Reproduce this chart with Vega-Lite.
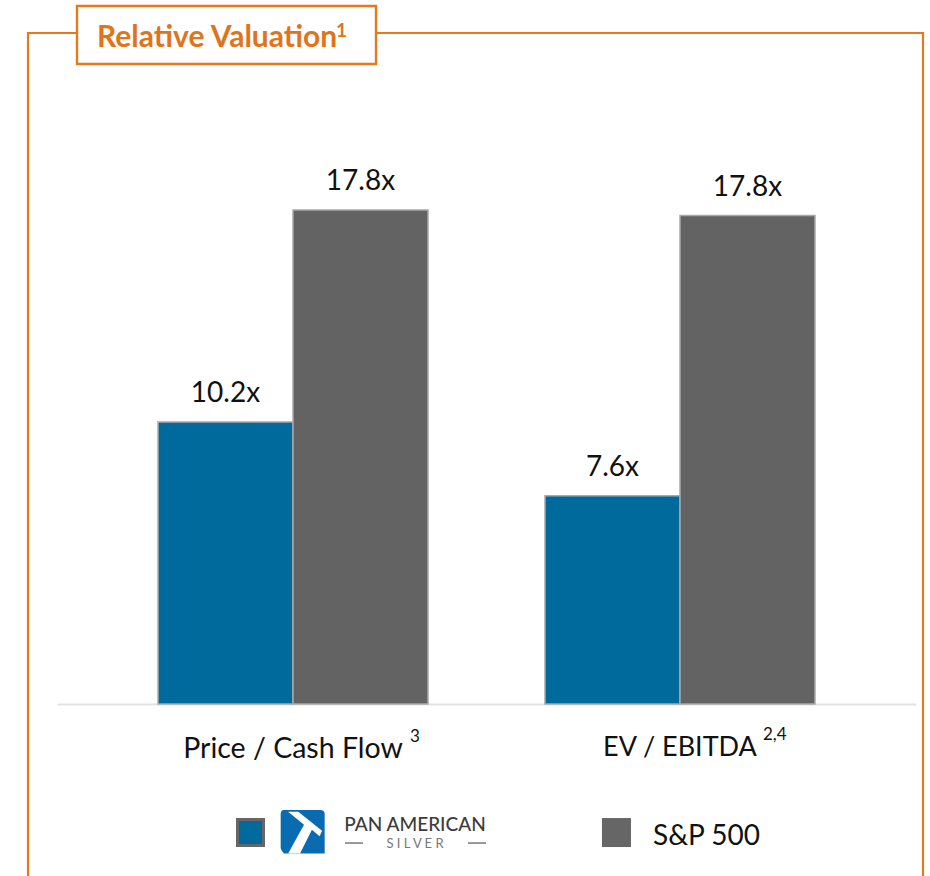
{
"$schema":"https://vega.github.io/schema/vega-lite/v6.json",
"autosize":{"type":"none"},
"padding":{"left":28,"top":33,"right":7,"bottom":0},
"width":895,"height":860,
"background":"white",
"view":{"stroke":"#E47A1E","strokeWidth":2.2,"fill":"white"},
"config":{"font":"Lato","text":{"font":"Lato"}},
"resolve":{"scale":{"x":"independent","y":"independent"},"axis":{"x":"independent","y":"independent"}},
"layer":[
{"data":{"values":[
{"metric":"Price / Cash Flow","series":"Pan American Silver","value":10.16,"label":"10.2x"},
{"metric":"Price / Cash Flow","series":"S&P 500","value":17.8,"label":"17.8x"},
{"metric":"EV / EBITDA","series":"Pan American Silver","value":7.5,"label":"7.6x"},
{"metric":"EV / EBITDA","series":"S&P 500","value":17.6,"label":"17.8x"}]},
"encoding":{
"x":{"field":"metric","type":"nominal","sort":null,"title":null,
"scale":{"range":[29,888],"paddingInner":0.3023,"paddingOuter":0.261},
"axis":{"offset":-189,"ticks":false,"domainColor":"#E3E3E3","domainWidth":2,"labelAngle":0,"labelFontSize":{"expr":"datum.label == 'Price / Cash Flow' ? 28.5 : 27"},"labelColor":"#111111","labelFont":"Lato","labelPadding":30,"labelLimit":0,"grid":false}},
"xOffset":{"field":"series","type":"nominal","sort":null,"scale":{"paddingInner":0,"paddingOuter":0}},
"y":{"field":"value","type":"quantitative","axis":null,"scale":{"domain":[0,24.18],"range":[671,0],"nice":false}}
},
"layer":[
{"mark":{"type":"bar","stroke":"#A9A9A9","strokeWidth":1.5},
"encoding":{"color":{"field":"series","type":"nominal","legend":null,"scale":{"domain":["Pan American Silver","S&P 500"],"range":["#006A9C","#636363"]}}}},
{"mark":{"type":"text","fontSize":28,"dy":-14,"color":"#111111","baseline":"bottom"},
"encoding":{"text":{"field":"label"}}}
]},
{"data":{"values":[{"u":0.4268,"v":0.1756,"t":"3"},{"u":0.8212,"v":0.1779,"t":"2,4"}]},
"mark":{"type":"text","align":"left","baseline":"alphabetic","fontSize":17,"color":"#111111"},
"encoding":{"x":{"field":"u","type":"quantitative","axis":null,"scale":{"domain":[0,1],"nice":false,"zero":false}},
"y":{"field":"v","type":"quantitative","axis":null,"scale":{"domain":[0,1],"nice":false,"zero":false}},"text":{"field":"t"}}},
{"data":{"values":[{"u":0.05475,"u2":0.38883,"v":1.0314,"v2":0.96395}]},
"mark":{"type":"rect","fill":"white","stroke":"#E47A1E","strokeWidth":2.4},
"encoding":{"x":{"field":"u","type":"quantitative","axis":null,"scale":{"domain":[0,1],"nice":false,"zero":false}},"x2":{"field":"u2"},
"y":{"field":"v","type":"quantitative","axis":null,"scale":{"domain":[0,1],"nice":false,"zero":false}},"y2":{"field":"v2"}}},
{"data":{"values":[{"u":0.0771,"v":0.98372,"t":"Relative Valuation"}]},
"mark":{"type":"text","align":"left","baseline":"alphabetic","fontSize":30,"fontWeight":"bold","color":"#E0741C"},
"encoding":{"x":{"field":"u","type":"quantitative","axis":null,"scale":{"domain":[0,1],"nice":false,"zero":false}},
"y":{"field":"v","type":"quantitative","axis":null,"scale":{"domain":[0,1],"nice":false,"zero":false}},"text":{"field":"t"}}},
{"data":{"values":[{"u":0.3441,"v":0.9953,"t":"1"}]},
"mark":{"type":"text","align":"left","baseline":"alphabetic","fontSize":19,"fontWeight":"bold","color":"#E0741C"},
"encoding":{"x":{"field":"u","type":"quantitative","axis":null,"scale":{"domain":[0,1],"nice":false,"zero":false}},
"y":{"field":"v","type":"quantitative","axis":null,"scale":{"domain":[0,1],"nice":false,"zero":false}},"text":{"field":"t"}}},
{"data":{"values":[{"u":0.2486,"v":0.0703}]},
"mark":{"type":"point","shape":"square","filled":true,"size":676,"fill":"#006A9C","stroke":"#666666","strokeWidth":3,"opacity":1},
"encoding":{"x":{"field":"u","type":"quantitative","axis":null,"scale":{"domain":[0,1],"nice":false,"zero":false}},
"y":{"field":"v","type":"quantitative","axis":null,"scale":{"domain":[0,1],"nice":false,"zero":false}}}},
{"data":{"values":[{"u":0.6575,"v":0.0703}]},
"mark":{"type":"point","shape":"square","filled":true,"size":841,"fill":"#666666","opacity":1},
"encoding":{"x":{"field":"u","type":"quantitative","axis":null,"scale":{"domain":[0,1],"nice":false,"zero":false}},
"y":{"field":"v","type":"quantitative","axis":null,"scale":{"domain":[0,1],"nice":false,"zero":false}}}},
{"data":{"values":[{"u":0.3069,"v":0.0709}]},
"mark":{"type":"point","shape":"M-0.85,-1 L0.8,-1 Q1,-1 1,-0.8 L1,0.98 L-0.85,0.98 Q-1,0.8 -1,0.7 L-1,-0.8 Q-1,-1 -0.85,-1 Z","filled":true,"size":1936,"fill":"#0A6CB0","opacity":1},
"encoding":{"x":{"field":"u","type":"quantitative","axis":null,"scale":{"domain":[0,1],"nice":false,"zero":false}},
"y":{"field":"v","type":"quantitative","axis":null,"scale":{"domain":[0,1],"nice":false,"zero":false}}}},
{"data":{"values":[{"u":0.3069,"v":0.0709}]},
"mark":{"type":"point","shape":"M-0.66,-0.92 L-0.2,-0.92 L0.88,-0.06 L0.77,0.19 L0.42,-0.1 L-0.12,0.98 L-0.66,0.98 L0.06,-0.33 Z","filled":true,"size":1936,"fill":"white","opacity":1},
"encoding":{"x":{"field":"u","type":"quantitative","axis":null,"scale":{"domain":[0,1],"nice":false,"zero":false}},
"y":{"field":"v","type":"quantitative","axis":null,"scale":{"domain":[0,1],"nice":false,"zero":false}}}},
{"data":{"values":[{"u":0.4324,"v":0.0721,"t":"PAN AMERICAN"}]},
"mark":{"type":"text","align":"center","baseline":"alphabetic","fontSize":19,"fontWeight":500,"color":"#3C3C3C"},
"encoding":{"x":{"field":"u","type":"quantitative","axis":null,"scale":{"domain":[0,1],"nice":false,"zero":false}},
"y":{"field":"v","type":"quantitative","axis":null,"scale":{"domain":[0,1],"nice":false,"zero":false}},"text":{"field":"t"}}},
{"data":{"values":[{"u":0.4324,"v":0.0527,"t":"S I L V E R"}]},
"mark":{"type":"text","align":"center","baseline":"alphabetic","fontSize":13,"color":"#777777"},
"encoding":{"x":{"field":"u","type":"quantitative","axis":null,"scale":{"domain":[0,1],"nice":false,"zero":false}},
"y":{"field":"v","type":"quantitative","axis":null,"scale":{"domain":[0,1],"nice":false,"zero":false}},"text":{"field":"t"}}},
{"data":{"values":[{"u":0.3542,"u2":0.3743,"v":0.0581},{"u":0.4916,"u2":0.5117,"v":0.0581}]},
"mark":{"type":"rule","color":"#777777","strokeWidth":1.5},
"encoding":{"x":{"field":"u","type":"quantitative","axis":null,"scale":{"domain":[0,1],"nice":false,"zero":false}},"x2":{"field":"u2"},
"y":{"field":"v","type":"quantitative","axis":null,"scale":{"domain":[0,1],"nice":false,"zero":false}}}},
{"data":{"values":[{"u":0.6983,"v":0.0558,"t":"S&P 500"}]},
"mark":{"type":"text","align":"left","baseline":"alphabetic","fontSize":28,"color":"#111111"},
"encoding":{"x":{"field":"u","type":"quantitative","axis":null,"scale":{"domain":[0,1],"nice":false,"zero":false}},
"y":{"field":"v","type":"quantitative","axis":null,"scale":{"domain":[0,1],"nice":false,"zero":false}},"text":{"field":"t"}}}
]
}
